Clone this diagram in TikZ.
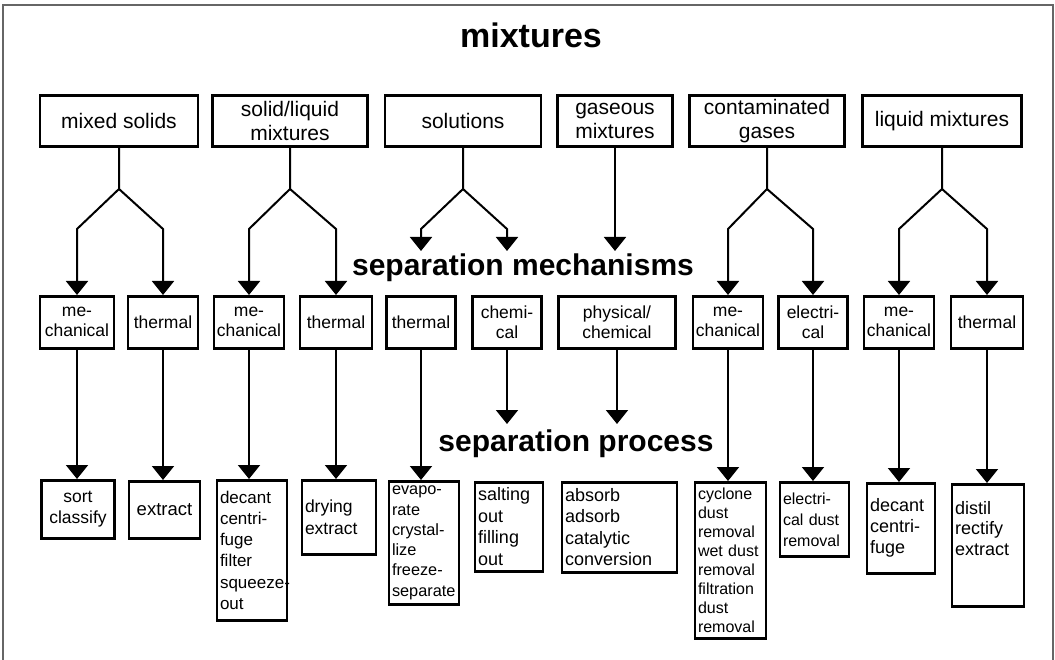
\documentclass[tikz,border=0pt]{standalone}
\usepackage{fontspec}
\setmainfont{Liberation Sans}
\usepackage{tikz}
\usetikzlibrary{arrows.meta}
\hyphenpenalty=10000
\exhyphenpenalty=10000
\definecolor{framegray}{rgb}{0.4,0.4,0.4}

\begin{document}
\begin{tikzpicture}[x=1pt, y=-1pt,
  box/.style={draw, line width=2.6pt, inner xsep=3pt, inner ysep=2pt},
  kind/.style={box, anchor=north, minimum height=51pt, align=center,
    font=\fontsize{21}{24.3}\selectfont},
  mech/.style={box, anchor=north, minimum height=52pt, align=center,
    font=\fontsize{17.5}{20}\selectfont},
  proc/.style={box, anchor=north, align=left,
    font=\fontsize{17.5}{21.5}\selectfont},
  heading/.style={anchor=base, font=\fontsize{30}{36}\selectfont\bfseries},
  link/.style={line width=2pt},
  arr/.style={link, -{Triangle[width=22pt,length=14pt]}}]
  \useasboundingbox (0,0) rectangle (1055,660);
  \draw[framegray, line width=1.2pt] (3,661) -- (3,5) -- (1053,5) -- (1053,661);

  \node (title) at (531,48) [heading, font=\fontsize{34}{40}\selectfont\bfseries] {mixtures};
  \node (mechlbl) at (523,276) [heading] {separation mechanisms};
  \node (proclbl) at (576,451) [heading] {separation process};

  % kinds of mixture
  \node (mixsol)  at (119,94) [kind, minimum width=158pt] {mixed solids};
  \node (sollig)  at (290,94) [kind, minimum width=155pt] {solid/liquid\\mixtures};
  \node (soltn)   at (463,94) [kind, minimum width=156pt] {solutions};
  \node (gasmix)  at (615,94) [kind, minimum width=115pt] {gaseous\\mixtures};
  \node (contgas) at (767,94) [kind, minimum width=155pt] {contaminated\\gases};
  \node (liqmix)  at (942,94) [kind, minimum width=159pt] {liquid mixtures};

  % mechanisms
  \node (mechA)  at (77,295)  [mech, minimum width=74pt] {me-\\chanical};
  \node (thermA) at (163,295) [mech, minimum width=70pt] {thermal};
  \node (mechB)  at (249,295) [mech, minimum width=70pt] {me-\\chanical};
  \node (thermB) at (336,295) [mech, minimum width=72pt] {thermal};
  \node (thermC) at (421,295) [mech, minimum width=69pt] {thermal};
  \node (chemC)  at (507,295) [mech, minimum width=69pt] {chemi-\\cal};
  \node (physG)  at (617,295) [mech, minimum width=117pt] {physical/\\chemical};
  \node (mechG)  at (728,295) [mech, minimum width=70pt] {me-\\chanical};
  \node (elecG)  at (813,295) [mech, minimum width=69pt] {electri-\\cal};
  \node (mechL)  at (899,295) [mech, minimum width=69pt] {me-\\chanical};
  \node (thermL) at (987,295) [mech, minimum width=72pt] {thermal};

  % processes
  \node (sortA)  at (78,479)    [proc, align=center, text width=67pt, minimum height=58pt] {sort\\classify};
  \node (extrA)  at (164.5,480) [proc, align=center, text width=65pt, minimum height=57pt,
                                 font=\fontsize{18.5}{21.5}\selectfont] {extract};
  \node (decB)   at (252,479)   [proc, text width=64pt, minimum height=140pt,
                                 font=\fontsize{17}{21.2}\selectfont] {decant\\centri-\\fuge\\filter\\squeeze-\\out};
  \node (dryB)   at (339,479)   [proc, text width=68pt, minimum height=74pt] {drying\\extract};
  \node (evapC)  at (424,480)   [proc, text width=64pt, minimum height=123pt,
                                 font=\fontsize{16.3}{20.3}\selectfont] {evapo-\\rate\\crystal-\\lize\\freeze-\\separate};
  \node (saltC)  at (509,481)   [proc, text width=62pt, minimum height=89pt,
                                 font=\fontsize{18}{21.5}\selectfont] {salting\\out\\filling\\out};
  \node (absG)   at (619.5,481) [proc, text width=109pt, minimum height=90pt,
                                 font=\fontsize{18}{21.5}\selectfont] {absorb\\adsorb\\catalytic\\conversion};
  \node (cycG)   at (730.5,481) [proc, text width=65pt, minimum height=156pt,
                                 font=\fontsize{16}{19}\selectfont] {cyclone\\dust\\removal\\wet dust\\removal\\filtration\\dust\\removal};
  \node (elecdG) at (814.5,481) [proc, text width=63pt, minimum height=74pt,
                                 font=\fontsize{16}{21}\selectfont] {electri-\\cal dust\\removal};
  \node (decL)   at (901,482)   [proc, text width=62pt, minimum height=90pt,
                                 font=\fontsize{18}{21}\selectfont] {decant\\centri-\\fuge};
  \node (distL)  at (988,483)   [proc, text width=66pt, text height=28pt, text depth=90pt,
                                 font=\fontsize{18}{20.5}\selectfont] {distil\\rectify\\extract};

  \coordinate (forkA) at (119,189);
  \coordinate (forkB) at (290,189);
  \coordinate (forkC) at (463,189);
  \coordinate (forkG) at (767,189);
  \coordinate (forkL) at (942,189);
  \coordinate (solL) at (421,251);
  \coordinate (solR) at (507,251);
  \coordinate (gasend) at (615,251);
  \coordinate (chemend) at (507,424);
  \coordinate (physend) at (617,424);

  \draw[arr] (mixsol) -- (forkA) -- ++(-42,40) -- (mechA);
  \draw[arr] (forkA) -- ++(44,40) -- (thermA);
  \draw[arr] (sollig) -- (forkB) -- ++(-41,40) -- (mechB);
  \draw[arr] (forkB) -- ++(46,40) -- (thermB);
  \draw[arr] (soltn) -- (forkC) -- ++(-42,40) -- (solL);
  \draw[arr] (forkC) -- ++(44,40) -- (solR);
  \draw[arr] (gasmix) -- (gasend);
  \draw[arr] (contgas) -- (forkG) -- ++(-39,40) -- (mechG);
  \draw[arr] (forkG) -- ++(46,40) -- (elecG);
  \draw[arr] (liqmix) -- (forkL) -- ++(-43,40) -- (mechL);
  \draw[arr] (forkL) -- ++(45,40) -- (thermL);

  \draw[arr] (mechA.south) -- (mechA.south |- sortA.north);
  \draw[arr] (thermA.south) -- (thermA.south |- extrA.north);
  \draw[arr] (mechB.south) -- (mechB.south |- decB.north);
  \draw[arr] (thermB.south) -- (thermB.south |- dryB.north);
  \draw[arr] (thermC.south) -- (thermC.south |- evapC.north);
  \draw[arr] (chemC.south) -- (chemend);
  \draw[arr] (physG.south) -- (physend);
  \draw[arr] (mechG.south) -- (mechG.south |- cycG.north);
  \draw[arr] (elecG.south) -- (elecG.south |- elecdG.north);
  \draw[arr] (mechL.south) -- (mechL.south |- decL.north);
  \draw[arr] (thermL.south) -- (thermL.south |- distL.north);
\end{tikzpicture}
\end{document}
